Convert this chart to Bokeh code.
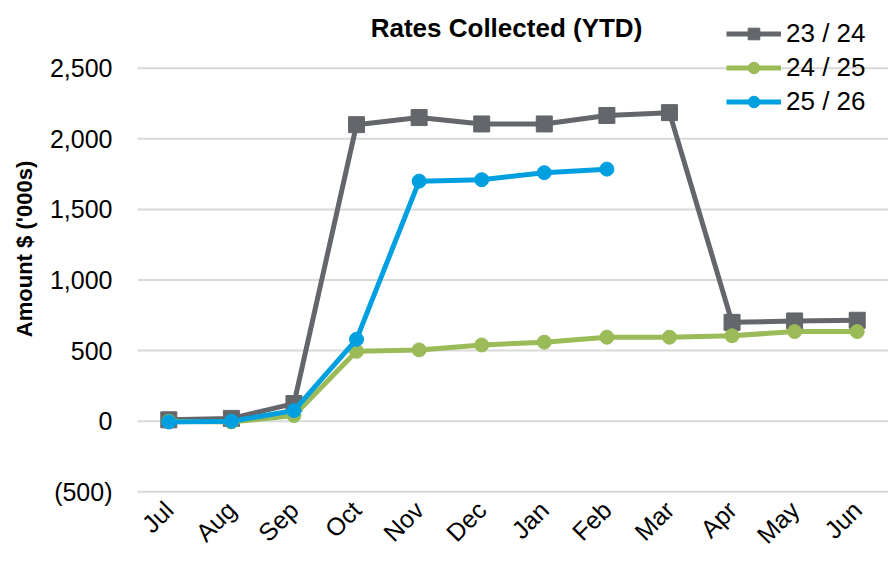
import math
from bokeh.plotting import figure
from bokeh.models import (FactorRange, Range1d, FixedTicker, CustomJSTickFormatter,
                          Legend, LegendItem, Label, Span)
from bokeh.embed import file_html
from bokeh.resources import INLINE

months = ["Jul", "Aug", "Sep", "Oct", "Nov", "Dec", "Jan", "Feb", "Mar", "Apr", "May", "Jun"]
fy2324 = [10, 20, 125, 2100, 2150, 2105, 2105, 2165, 2185, 700, 710, 715]
fy2425 = [0, -5, 40, 495, 505, 540, 560, 595, 595, 605, 635, 635]
fy2526 = [-5, 0, 75, 580, 1700, 1710, 1760, 1785]
y_ticks = [-500, 0, 500, 1000, 1500, 2000, 2500]

GRAY = "#63666A"
GREEN = "#9BBB59"
BLUE = "#009FDF"
FONT = "Liberation Sans"

p = figure(width=888, height=561, x_range=FactorRange(*months),
           y_range=Range1d(-540, 2979),
           output_backend="svg", toolbar_location=None,
           min_border_left=137, min_border_right=0, min_border_bottom=64, min_border_top=0)

p.outline_line_color = None
p.xgrid.grid_line_color = None
p.ygrid.grid_line_color = None

for t in y_ticks:
    lvl = "overlay" if t < 0 else "underlay"
    p.add_layout(Span(location=t, dimension="width", line_color="#D9D9D9",
                      line_width=2, level=lvl))

p.yaxis.ticker = FixedTicker(ticks=y_ticks)
p.yaxis.formatter = CustomJSTickFormatter(code="""
const s = Math.abs(tick).toLocaleString('en-US');
return tick < 0 ? '(' + s + ')' : s;
""")
for ax in (p.xaxis[0], p.yaxis[0]):
    ax.axis_line_color = None
    ax.major_tick_line_color = None
    ax.minor_tick_line_color = None
    ax.major_tick_out = 0
    ax.major_tick_in = 0
    ax.major_label_text_font = FONT
    ax.major_label_text_color = "#000000"
    ax.major_label_text_font_size = "25px"

p.yaxis.major_label_standoff = 25
p.yaxis.axis_label = "Amount $ ('000s)"
p.yaxis.axis_label_text_font = FONT
p.yaxis.axis_label_text_font_size = "22px"
p.yaxis.axis_label_text_font_style = "bold"
p.yaxis.axis_label_text_color = "#000000"
p.yaxis.axis_label_standoff = 10

p.xaxis.major_label_orientation = math.pi / 4
p.xaxis.major_label_standoff = 8

x23 = months
x25 = months[:len(fy2526)]

l1 = p.line(x23, fy2324, line_color=GRAY, line_width=5)
s1 = p.scatter(x23, fy2324, marker="square", size=16, fill_color=GRAY, line_color=GRAY)
l2 = p.line(x23, fy2425, line_color=GREEN, line_width=5)
s2 = p.scatter(x23, fy2425, marker="circle", size=14, fill_color=GREEN, line_color=GREEN)
l3 = p.line(x25, fy2526, line_color=BLUE, line_width=5)
s3 = p.scatter(x25, fy2526, marker="circle", size=14, fill_color=BLUE, line_color=BLUE)

title = Label(x=369, y=470, x_units="screen", y_units="screen", text="Rates Collected (YTD)",
              text_font=FONT, text_font_size="26px", text_font_style="bold",
              text_color="#000000", text_align="center", text_baseline="middle")
p.add_layout(title)

legend = Legend(items=[
    LegendItem(label="23 / 24", renderers=[l1, s1]),
    LegendItem(label="24 / 25", renderers=[l2, s2]),
    LegendItem(label="25 / 26", renderers=[l3, s3]),
], location=(589, 380))
legend.label_text_font = FONT
legend.label_text_font_size = "26px"
legend.label_text_color = "#000000"
legend.label_standoff = 5
legend.glyph_width = 55
legend.glyph_height = 29
legend.label_height = 29
legend.spacing = 3
legend.padding = 4
legend.margin = 0
legend.border_line_color = None
legend.background_fill_alpha = 0
p.add_layout(legend, "center")

open("out.html", "w").write(file_html(p, INLINE))
